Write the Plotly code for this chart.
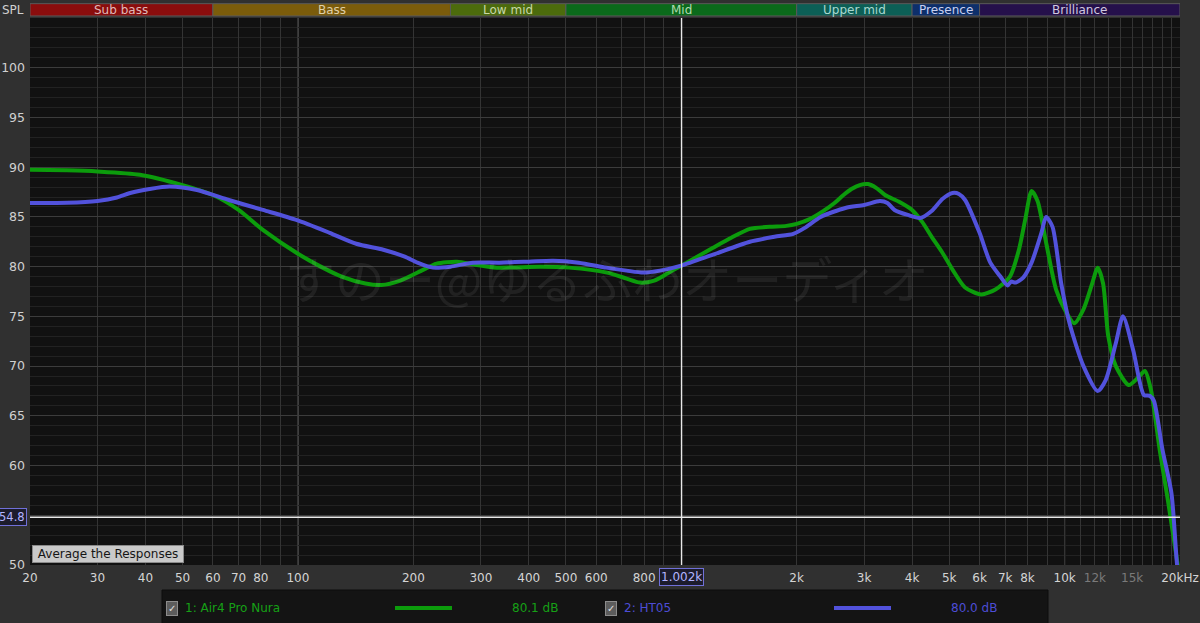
import math
import plotly.graph_objects as go

# ---------------- data ----------------
NAME_A = "1: Air4 Pro Nura"
NAME_B = "2: HT05"
AVG_A = "80.1 dB"
AVG_B = "80.0 dB"

FREQ_A = [20, 25, 30, 38.7, 50, 60, 70, 81, 100, 116, 130, 150, 165, 185, 210, 230, 260, 290, 330,
          430, 510, 640, 720, 780, 850, 920, 1000, 1100, 1210, 1350, 1510, 1700, 1880, 2000, 2170,
          2350, 2510, 2650, 2780, 2920, 3070, 3230, 3400, 3710, 4000, 4250, 4500, 4800, 5100, 5500,
          6060, 6600, 7200, 7600, 7900, 8200, 8500, 8950, 9500, 10100, 10600, 11200, 11800, 12200,
          12600, 13000, 13600, 14700, 15600, 16200, 16800, 17700, 18600, 19700, 20000]
SPL_A = [89.74, 89.68, 89.57, 89.24, 88.2, 87.2, 85.7, 83.7, 81.3, 79.9, 79.0, 78.3, 78.15, 78.6, 79.6,
         80.3, 80.5, 80.2, 79.9, 80.0, 79.9, 79.4, 78.8, 78.4, 78.6, 79.3, 80.1, 81.0, 81.9, 82.9, 83.8,
         84.0, 84.1, 84.3, 84.8, 85.6, 86.4, 87.2, 87.8, 88.2, 88.3, 87.9, 87.2, 86.5, 85.7, 84.5, 83.0,
         81.4, 79.7, 77.9, 77.2, 77.7, 79.0, 81.7, 84.8, 87.6, 86.6, 82.4, 77.7, 75.4, 74.3, 75.7, 78.3,
         79.9, 78.3, 73.0, 70.0, 68.1, 68.9, 69.5, 67.6, 61.6, 56.5, 50.2, 48.8]

FREQ_B = [20, 25, 30, 33.7, 36.5, 41, 46.3, 54.5, 66, 81, 99, 121, 142, 167, 190, 205, 225, 250, 286,
          336, 400, 463, 540, 637, 720, 795, 880, 1000, 1210, 1510, 1750, 1960, 2100, 2310, 2680, 3000,
          3300, 3450, 3600, 3900, 4200, 4500, 4800, 5100, 5300, 5500, 6000, 6400, 6800, 7100, 7250,
          7450, 7800, 8200, 8700, 8950, 9300, 9800, 10300, 11200, 12200, 12800, 13600, 14200, 15100,
          16100, 16700, 17100, 18000, 19000, 19600, 20000]
SPL_B = [86.4, 86.42, 86.6, 86.95, 87.4, 87.8, 88.05, 87.7, 86.7, 85.7, 84.7, 83.4, 82.3, 81.7, 81.0,
         80.4, 79.9, 80.0, 80.4, 80.4, 80.5, 80.6, 80.4, 79.9, 79.6, 79.4, 79.6, 80.1, 81.2, 82.5, 83.0,
         83.3, 83.9, 85.0, 85.9, 86.2, 86.6, 86.4, 85.7, 85.2, 84.9, 85.6, 86.8, 87.4, 87.3, 86.7, 83.4,
         80.4, 79.0, 78.1, 78.5, 78.4, 78.9, 80.4, 83.4, 85.0, 84.0, 78.3, 74.3, 70.0, 67.5, 68.6, 72.3,
         75.0, 71.6, 67.1, 67.0, 66.5, 61.6, 57.2, 50.5, 47.0]

BAND_NAMES = ["Sub bass", "Bass", "Low mid", "Mid", "Upper mid", "Presence", "Brilliance"]
BAND_EDGES = [20, 60, 250, 500, 2000, 4000, 6000, 20000]
BAND_COLORS = ["#8a0d0d", "#7b5c0b", "#4c6b0c", "#0b6a1b", "#0c5f56", "#0d2f6b", "#25104b"]
BAND_TEXT = ["#e0b8b8", "#e0d0a8", "#c8d8a8", "#b0dcb0", "#a8d8d0", "#c8d0f0", "#d0c8e0"]

GRID_FREQS = ([20, 30, 40, 50, 60, 70, 80, 90] + [100 * k for k in range(1, 10)]
              + [1000 * k for k in range(1, 10)] + [10000 + 1000 * k for k in range(0, 11)])
TICK_LABELS = {20: "20", 30: "30", 40: "40", 50: "50", 60: "60", 70: "70", 80: "80",
               100: "100", 200: "200", 300: "300", 400: "400", 500: "500", 600: "600", 800: "800",
               2000: "2k", 3000: "3k", 4000: "4k", 5000: "5k", 6000: "6k", 7000: "7k", 8000: "8k",
               10000: "10k", 12000: "<span style='color:#7a7a7a'>12k</span>",
               15000: "<span style='color:#7a7a7a'>15k</span>", 20000: "20kHz"}
DECADE_LINES = [100, 1000, 10000]
Y_TICKS = [50, 55, 60, 65, 70, 75, 80, 85, 90, 95, 100]
Y_LABELS = ["50", "", "60", "65", "70", "75", "80", "85", "90", "95", "100"]
Y_RANGE = [50, 105]
CURSOR_FREQ = 1002
CURSOR_SPL = 54.8
WATERMARK = "すのー@ゆるふわオーディオ"

GREEN = "#0c9c0c"
BLUE = "#5252dc"
FONT = "DejaVu Sans"

# ---------------- figure ----------------
fig = go.Figure()
fig.add_trace(go.Scatter(x=FREQ_A, y=SPL_A, mode="lines", name=NAME_A,
                         line=dict(color=GREEN, width=4, shape="spline", smoothing=0.7)))
fig.add_trace(go.Scatter(x=FREQ_B, y=SPL_B, mode="lines", name=NAME_B,
                         line=dict(color=BLUE, width=4, shape="spline", smoothing=0.7)))

shapes = []
for f in DECADE_LINES:
    shapes.append(dict(type="line", xref="x", yref="paper", x0=f, x1=f, y0=0, y1=1,
                       line=dict(color="#7c7c7c", width=1), layer="below"))
shapes.append(dict(type="line", xref="x", yref="paper", x0=CURSOR_FREQ, x1=CURSOR_FREQ, y0=0, y1=1,
                   line=dict(color="#e8e8e8", width=1.3)))
shapes.append(dict(type="line", xref="paper", yref="y", x0=0, x1=1, y0=CURSOR_SPL, y1=CURSOR_SPL,
                   line=dict(color="#e8e8e8", width=1.3)))

annotations = []
for name, f0, f1, col, tcol in zip(BAND_NAMES, BAND_EDGES[:-1], BAND_EDGES[1:], BAND_COLORS, BAND_TEXT):
    shapes.append(dict(type="rect", xref="x", yref="paper", x0=f0, x1=f1, y0=1.0037, y1=1.0262,
                       fillcolor=col, line=dict(color="#5a5a5a", width=1)))
    annotations.append(dict(text=name, xref="x", yref="paper",
                            x=(math.log10(f0) + math.log10(f1)) / 2, y=1.015,
                            showarrow=False, font=dict(family=FONT, size=12, color=tcol),
                            xanchor="center", yanchor="middle"))

annotations.append(dict(text="SPL", xref="paper", yref="paper", x=0, y=1.015, xshift=-4,
                        showarrow=False, xanchor="right", yanchor="middle",
                        font=dict(family=FONT, size=12, color="#d0d0d0")))
annotations.append(dict(text=WATERMARK, xref="paper", yref="paper", x=0.502, y=0.527,
                        showarrow=False, xanchor="center", yanchor="middle",
                        font=dict(family="Noto Sans CJK JP", size=50, color="rgba(255,255,255,0.07)")))
annotations.append(dict(text="54.8", xref="paper", yref="y", x=0, y=CURSOR_SPL, xshift=-3,
                        showarrow=False, xanchor="right", yanchor="middle",
                        font=dict(family=FONT, size=11.5, color="#b4b4ff"),
                        bgcolor="#1c1c2c", bordercolor="#7070d8", borderwidth=1, borderpad=1))
annotations.append(dict(text="1.002k", xref="x", yref="paper", x=math.log10(CURSOR_FREQ), y=0,
                        yshift=-3, showarrow=False, xanchor="center", yanchor="top",
                        font=dict(family=FONT, size=12, color="#b4b4ff"),
                        bgcolor="#1c1c2c", bordercolor="#7070d8", borderwidth=1, borderpad=1))
annotations.append(dict(text="\u00a0Average the Responses\u00a0", xref="paper", yref="paper",
                        x=0.002, y=0.004, showarrow=False, xanchor="left", yanchor="bottom",
                        font=dict(family=FONT, size=12, color="#151515"),
                        bgcolor="#c9c9c9", bordercolor="#8a8a8a", borderwidth=1, borderpad=1))

PW, PH, L, T = 1150, 547, 30, 18
def px(x):
    return (x - L) / PW
def py(y):
    return (T + PH - y) / PH

shapes.append(dict(type="rect", xref="paper", yref="paper", x0=px(162), x1=px(1048), y0=py(590),
                   y1=py(626), fillcolor="#141414", line=dict(color="#0c0c0c", width=1), layer="below"))
legend_items = [(NAME_A, AVG_A, GREEN, "#16a016", 172, 395, 535),
                (NAME_B, AVG_B, BLUE, "#4d4dd6", 611, 834, 974)]
for name, avg, col, tcol, xc, xl, xv in legend_items:
    annotations.append(dict(text="✓", xref="paper", yref="paper", x=px(xc), y=py(608),
                            showarrow=False, xanchor="center", yanchor="middle",
                            font=dict(family=FONT, size=10, color="#e0e0e0"),
                            bgcolor="#5c5c5c", bordercolor="#8c8c8c", borderwidth=1, borderpad=1))
    annotations.append(dict(text=name, xref="paper", yref="paper", x=px(xc + 11), y=py(608),
                            showarrow=False, xanchor="left", yanchor="middle",
                            font=dict(family=FONT, size=12, color=tcol)))
    shapes.append(dict(type="line", xref="paper", yref="paper", x0=px(xl), x1=px(xl + 57),
                       y0=py(608), y1=py(608), line=dict(color=col, width=4)))
    annotations.append(dict(text=avg, xref="paper", yref="paper", x=px(xv), y=py(608),
                            showarrow=False, xanchor="center", yanchor="middle",
                            font=dict(family=FONT, size=12, color=tcol)))

fig.update_layout(
    width=1200, height=623,
    margin=dict(l=30, r=20, t=18, b=58, pad=0, autoexpand=False),
    paper_bgcolor="#303030", plot_bgcolor="#111111",
    showlegend=False,
    shapes=shapes, annotations=annotations,
    font=dict(family=FONT, size=12, color="#d4d4d4"),
)
fig.update_xaxes(type="log", range=[math.log10(20), math.log10(20000)], automargin=False,
                 tickmode="array", tickvals=GRID_FREQS,
                 ticktext=[TICK_LABELS.get(f, "") for f in GRID_FREQS],
                 showgrid=True, gridcolor="#343434", gridwidth=1, zeroline=False,
                 showline=False, ticks="", tickfont=dict(family=FONT, size=12, color="#d4d4d4"),
                 ticklabelstandoff=4)
fig.update_yaxes(range=Y_RANGE, tickmode="array", tickvals=Y_TICKS, ticktext=Y_LABELS, automargin=False,
                 showgrid=True, gridcolor="#3c3c3c", gridwidth=1, zeroline=False,
                 showline=False, ticks="", tickfont=dict(family=FONT, size=12.5, color="#d0d0d0"),
                 ticklabelstandoff=4,
                 minor=dict(dtick=1, tick0=50, showgrid=True, gridcolor="#222222", gridwidth=1))

fig.write_html("out.html", config={"displayModeBar": False},
               post_script="document.body.style.margin='0';document.body.style.background='#303030';"
                           "document.body.style.overflow='hidden';")
